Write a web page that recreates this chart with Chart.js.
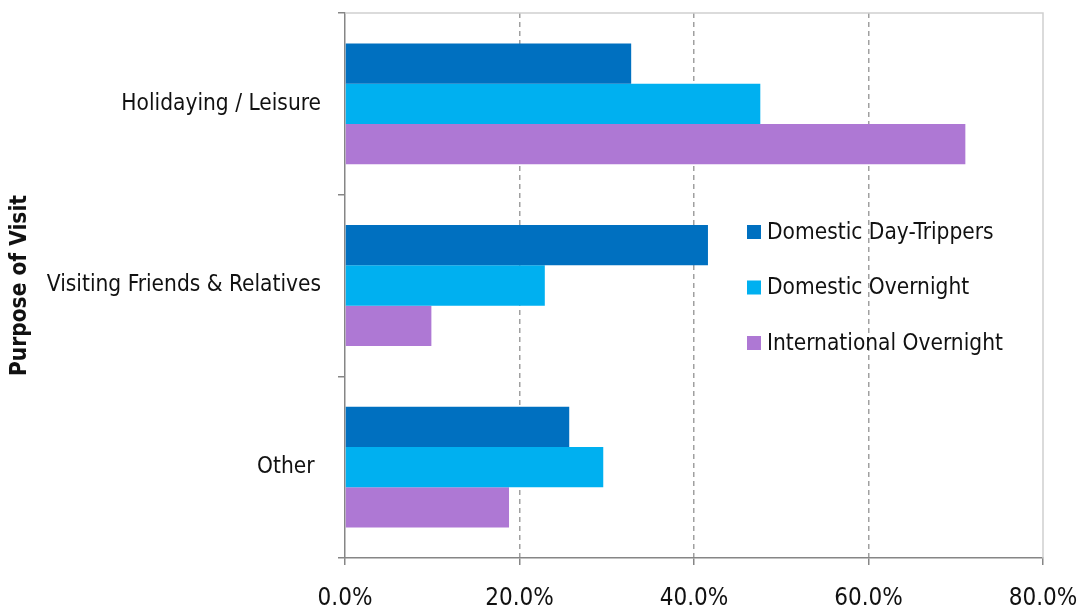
<!DOCTYPE html>
<html>
<head>
<meta charset="utf-8">
<script src="https://cdn.jsdelivr.net/npm/chart.js@4.4.1/dist/chart.umd.min.js"></script>
<style>
  html, body { margin: 0; padding: 0; background: #fff; }
  #wrap { width: 1077px; height: 608px; }
</style>
</head>
<body>
<div id="wrap"><canvas id="purposeChart"></canvas></div>
<script>
const categories = ['Holidaying / Leisure', 'Visiting Friends & Relatives', 'Other '];
const seriesNames = ['Domestic Day-Trippers', 'Domestic Overnight', 'International Overnight'];
const dayTrippers = [32.8, 41.6, 25.7];
const domesticOvernight = [47.6, 22.9, 29.6];
const internationalOvernight = [71.1, 9.9, 18.8];
const seriesColors = ['#0070C0', '#00B0F0', '#AE78D4'];

const FONT = "'DejaVu Sans Condensed', 'DejaVu Sans', sans-serif";

// legend drawn inside the plot area, like the original
const insideLegend = {
    id: 'insideLegend',
    afterDraw(chart) {
        const ctx = chart.ctx;
        const x = 747, y0 = 232, step = 55.5;
        ctx.save();
        ctx.font = '22.5px ' + FONT;
        ctx.textBaseline = 'middle';
        chart.data.datasets.forEach((ds, i) => {
            const y = y0 + i * step;
            ctx.fillStyle = ds.backgroundColor;
            ctx.fillRect(x, y - 7, 14, 14);
            ctx.fillStyle = '#111';
            ctx.fillText(ds.label, x + 20, y + 1);
        });
        ctx.restore();
    }
};

// light grey top / right frame of the plot area
const plotFrame = {
    id: 'plotFrame',
    beforeDatasetsDraw(chart) {
        const { ctx, chartArea: a } = chart;
        ctx.save();
        ctx.strokeStyle = '#D0D0D0';
        ctx.lineWidth = 1.5;
        ctx.beginPath();
        ctx.moveTo(a.left, a.top);
        ctx.lineTo(a.right, a.top);
        ctx.lineTo(a.right, a.bottom);
        ctx.stroke();
        ctx.restore();
    }
};

new Chart(document.getElementById('purposeChart'), {
    type: 'bar',
    data: {
        labels: categories,
        datasets: [
            { label: seriesNames[0], data: dayTrippers, backgroundColor: seriesColors[0] },
            { label: seriesNames[1], data: domesticOvernight, backgroundColor: seriesColors[1] },
            { label: seriesNames[2], data: internationalOvernight, backgroundColor: seriesColors[2] }
        ]
    },
    options: {
        indexAxis: 'y',
        responsive: true,
        maintainAspectRatio: false,
        animation: false,
        datasets: { bar: { categoryPercentage: 0.665, barPercentage: 1.0 } },
        layout: { padding: { top: 13, right: 34, left: 0, bottom: 0 } },
        plugins: {
            legend: { display: false },
            tooltip: { enabled: false }
        },
        scales: {
            x: {
                min: 0,
                max: 80,
                ticks: {
                    stepSize: 20,
                    color: '#111',
                    padding: 19,
                    font: { family: FONT, size: 24 },
                    callback: v => v.toFixed(1) + '%'
                },
                grid: {
                    color: c => (c.tick && (c.tick.value === 0 || c.tick.value === 80)) ? 'rgba(0,0,0,0)' : '#A0A0A0',
                    lineWidth: 1.5,
                    tickColor: '#868686',
                    tickLength: 7,
                    tickBorderDash: []
                },
                border: { display: true, color: '#868686', width: 1.5, dash: [5, 4] },
                afterFit: s => { s.height = 50; s.paddingLeft = 0; s.paddingRight = 0; }
            },
            y: {
                ticks: {
                    color: '#111',
                    padding: 17,
                    font: { family: FONT, size: 22.5 }
                },
                grid: {
                    offset: true,
                    drawOnChartArea: false,
                    tickLength: 7,
                    tickColor: '#868686',
                    lineWidth: 1.5
                },
                border: { display: true, color: '#868686', width: 1.5 },
                title: {
                    display: true,
                    text: 'Purpose of Visit',
                    color: '#111',
                    font: { family: FONT, size: 22.5, weight: 'bold' },
                    padding: { top: 7, bottom: 0 }
                },
                afterFit: s => { s.width = 345; s.paddingTop = 0; s.paddingBottom = 0; }
            }
        }
    },
    plugins: [plotFrame, insideLegend]
});
</script>
</body>
</html>
